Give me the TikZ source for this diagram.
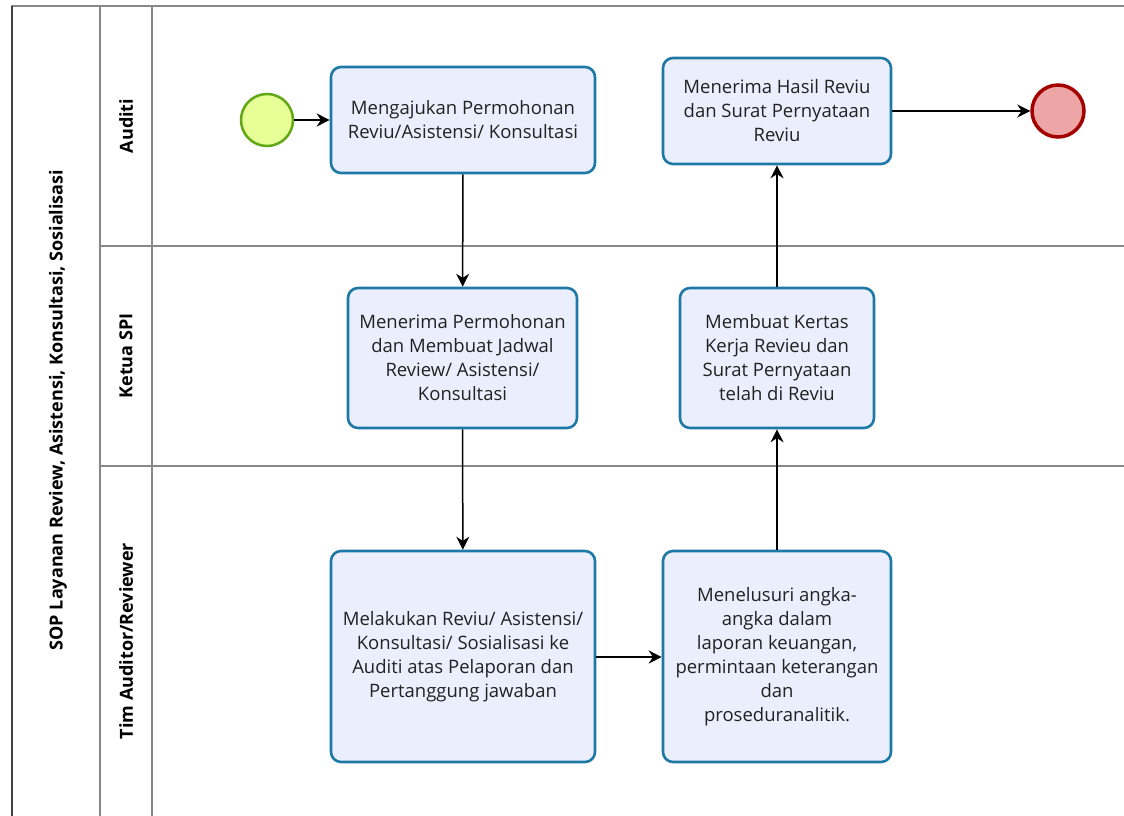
\documentclass[tikz,border=0pt]{standalone}
\usepackage{fontspec}
\setmainfont{Open Sans}
\usetikzlibrary{arrows.meta}
\definecolor{taskborder}{HTML}{1E79A6}
\definecolor{taskfill}{HTML}{EBEEFC}
\definecolor{startfill}{HTML}{E6FF97}
\definecolor{startborder}{HTML}{62A716}
\definecolor{endfill}{HTML}{EEA5A5}
\definecolor{endborder}{HTML}{A30000}
\definecolor{laneline}{HTML}{888888}
\definecolor{txt}{HTML}{222222}
\tikzset{
  task/.style={draw=taskborder, fill=taskfill, line width=2.6pt, rounded corners=10pt,
    align=center, font=\fontsize{18.5}{24}\selectfont, text=txt, inner sep=2pt},
  startev/.style={circle, draw=startborder, fill=startfill, line width=2.5pt, minimum size=52pt, inner sep=0pt},
  endev/.style={circle, draw=endborder, fill=endfill, line width=3.5pt, minimum size=52pt, inner sep=0pt},
  flow/.style={-{Stealth[length=13pt,width=13pt]}, line width=1.5pt, black},
  lanelbl/.style={rotate=90, font=\bfseries\fontsize{18}{21}\selectfont, text=black},
}
\begin{document}
\begin{tikzpicture}[x=1pt,y=-1pt]
\useasboundingbox[fill=white] (0,0) rectangle (1124,816);
% pool and lanes
\draw[laneline, line width=2pt] (12,816) -- (12,6) -- (1124,6);
\draw[black!75, line width=2pt] (12,816) -- (12,6);
\draw[laneline, line width=2pt] (100,6) -- (100,816);
\draw[laneline, line width=2pt] (152,6) -- (152,816);
\draw[laneline, line width=2pt] (100,246) -- (1124,246);
\draw[laneline, line width=2pt] (100,466) -- (1124,466);
\node[lanelbl] (pool) at (58,410) {SOP Layanan Review, Asistensi, Konsultasi, Sosialisasi};
\node[lanelbl] (l1) at (126,126) {Auditi};
\node[lanelbl] (l2) at (126,356) {Ketua SPI};
\node[lanelbl] (l3) at (126,641) {Tim Auditor/Reviewer};
% events
\node[startev] (start) at (267,120) {};
\node[endev] (end) at (1058,111) {};
% tasks
\node[task, minimum width=264pt, minimum height=106pt] (t1) at (463,120) {Mengajukan Permohonan\\Reviu/Asistensi/ Konsultasi};
\node[task, minimum width=228pt, minimum height=106pt] (t2) at (777,111) {Menerima Hasil Reviu\\dan Surat Pernyataan\\Reviu};
\node[task, minimum width=229pt, minimum height=140pt] (t3) at (462.5,358) {Menerima Permohonan\\dan Membuat Jadwal\\Review/ Asistensi/\\Konsultasi};
\node[task, minimum width=194pt, minimum height=140pt] (t4) at (777,358) {Membuat Kertas\\Kerja Revieu dan\\Surat Pernyataan\\telah di Reviu};
\node[task, minimum width=264pt, minimum height=211pt] (t5) at (463,656.5) {Melakukan Reviu/ Asistensi/\\Konsultasi/ Sosialisasi ke\\Auditi  atas Pelaporan dan\\Pertanggung jawaban};
\node[task, minimum width=228pt, minimum height=211pt] (t6) at (777,656.5) {Menelusuri angka-\\angka dalam\\laporan keuangan,\\permintaan keterangan\\dan\\proseduranalitik.};
% flows
\draw[flow] (start) -- (t1);
\draw[flow] (t1) -- (t3);
\draw[flow] (t3) -- (t5);
\draw[flow] (t5.east |- 0,657) -- (t6.west |- 0,657);
\draw[flow] (t6) -- (t4);
\draw[flow] (t4) -- (t2);
\draw[flow] (t2) -- (end);
\end{tikzpicture}
\end{document}
